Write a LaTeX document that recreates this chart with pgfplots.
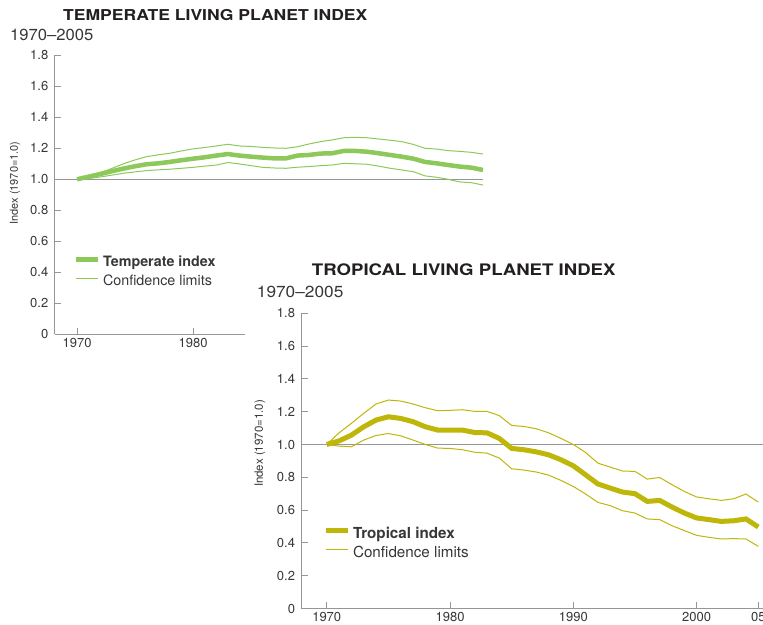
\documentclass[border=0pt]{standalone}
\usepackage{fontspec}
\usepackage{graphicx}
\usepackage{pgfplots}
\pgfplotsset{compat=1.18}
\setmainfont{TeX Gyre Heros}

\definecolor{tempgreen}{RGB}{140,200,90}
\definecolor{tropyellow}{RGB}{190,183,10}
\definecolor{axisgray}{RGB}{150,150,150}
\definecolor{labelgray}{RGB}{55,55,55}
\definecolor{titleblack}{RGB}{35,31,32}

% temperate index and its confidence limits
\pgfplotstableread{
year main upper lower
1970 1.000 1.000 1.000
1971 1.017 1.020 1.005
1972 1.034 1.042 1.015
1973 1.052 1.070 1.027
1974 1.069 1.100 1.039
1975 1.084 1.125 1.048
1976 1.097 1.146 1.056
1977 1.103 1.158 1.061
1978 1.112 1.168 1.065
1979 1.123 1.183 1.071
1980 1.133 1.196 1.077
1981 1.142 1.205 1.085
1982 1.153 1.215 1.092
1983 1.163 1.226 1.108
1984 1.153 1.215 1.099
1985 1.146 1.212 1.088
1986 1.140 1.206 1.077
1987 1.135 1.202 1.073
1988 1.135 1.200 1.071
1989 1.153 1.210 1.078
1990 1.157 1.228 1.082
1991 1.166 1.243 1.088
1992 1.168 1.254 1.092
1993 1.183 1.268 1.103
1994 1.183 1.271 1.100
1995 1.178 1.268 1.097
1996 1.168 1.260 1.085
1997 1.157 1.252 1.071
1998 1.146 1.243 1.060
1999 1.133 1.225 1.049
2000 1.112 1.200 1.022
2001 1.103 1.195 1.013
2002 1.092 1.185 1.000
2003 1.082 1.180 0.983
2004 1.075 1.174 0.978
2005 1.060 1.163 0.963
}\temperate

% tropical index and its confidence limits
\pgfplotstableread{
year main upper lower
1970 1.000 1.000 1.000
1971 1.022 1.071 0.990
1972 1.057 1.129 0.986
1973 1.108 1.190 1.027
1974 1.149 1.247 1.055
1975 1.169 1.271 1.067
1976 1.159 1.265 1.053
1977 1.139 1.247 1.027
1978 1.108 1.224 1.000
1979 1.088 1.206 0.978
1980 1.088 1.208 0.976
1981 1.088 1.212 0.968
1982 1.073 1.202 0.953
1983 1.071 1.202 0.947
1984 1.037 1.176 0.917
1985 0.976 1.116 0.852
1986 0.968 1.110 0.844
1987 0.955 1.096 0.832
1988 0.937 1.071 0.813
1989 0.907 1.037 0.781
1990 0.870 1.000 0.744
1991 0.815 0.951 0.698
1992 0.759 0.886 0.647
1993 0.734 0.862 0.627
1994 0.710 0.838 0.596
1995 0.700 0.836 0.582
1996 0.653 0.789 0.546
1997 0.659 0.799 0.542
1998 0.619 0.755 0.505
1999 0.582 0.714 0.475
2000 0.552 0.680 0.446
2001 0.542 0.669 0.434
2002 0.531 0.659 0.424
2003 0.535 0.669 0.426
2004 0.546 0.698 0.424
2005 0.497 0.649 0.379
}\tropical

\pgfplotsset{
  lpi/.style={
    scale only axis,
    axis lines=left,
    axis line style={-, draw=axisgray, line width=1pt},
    tick align=inside,
    major tick length=6pt,
    tick style={draw=axisgray, line width=1pt},
    ymin=0, ymax=1.8,
    ytick={0,0.2,0.4,0.6,0.8,1.0,1.2,1.4,1.6,1.8},
    yticklabels={0,0.2,0.4,0.6,0.8,1.0,1.2,1.4,1.6,1.8},
    /pgf/number format/assume math mode=true,
    yticklabel style={inner sep=0pt, xshift=-6.5pt,
      font=\fontsize{13}{15}\selectfont, text=labelgray},
    xticklabel style={inner sep=0pt, yshift=-4pt,
      font=\fontsize{13}{15}\selectfont, text=labelgray},
    clip=false,
    legend cell align=left,
    legend image code/.code={\draw[##1] (0pt,3.8pt) -- (22pt,3.8pt);},
    legend style={draw=none, fill=none, inner sep=0pt, outer sep=0pt,
      row sep=6pt, column sep=3pt, anchor=west, text=labelgray,
      nodes={inner sep=0pt, text height=10pt, text depth=3pt}},
  },
}

\begin{document}
\begin{tikzpicture}
\useasboundingbox (0,0) rectangle (763pt,624pt);
\clip (0,0) rectangle (763pt,624pt);

% ---- temperate panel ----
\begin{axis}[lpi,
  at={(55pt,289.7pt)}, anchor=south west,
  width=428pt, height=279pt,
  xmin=1968.1, xmax=2005,
  xtick={1970,1980,1990,2000},
  xticklabels={1970,1980,1990,2000},
  legend style={at={(axis cs:1969.7,0.397)}, font=\fontsize{14.3}{16}\selectfont},
]
\addplot[axisgray, line width=1.2pt, forget plot] coordinates {(1968.1,1) (2005,1)};
\addplot[tempgreen, line width=4.5pt] table[x=year, y=main] {\temperate};
\addlegendentry{\textbf{Temperate index}}
\addplot[tempgreen, line width=1pt] table[x=year, y=upper] {\temperate};
\addlegendentry{Confidence limits}
\addplot[tempgreen, line width=1pt, forget plot] table[x=year, y=lower] {\temperate};
\end{axis}

\node[anchor=base west, inner sep=0pt, text=titleblack] at (63pt,603.6pt)
  {\scalebox{1.17}[1]{\fontsize{15}{17}\selectfont\bfseries TEMPERATE LIVING PLANET INDEX}};
\node[anchor=base west, inner sep=0pt, text=labelgray] at (10pt,583.6pt)
  {\scalebox{1.04}[1]{\fontsize{16}{18}\selectfont 1970–2005}};
\node[rotate=90, inner sep=0pt, text=labelgray] at (15pt,441pt)
  {\fontsize{11}{13}\selectfont Index (1970=1.0)};

% white panel behind the tropical chart
\fill[white] (245pt,0pt) rectangle (763pt,374pt);

% ---- tropical panel ----
\begin{axis}[lpi,
  at={(301.7pt,15.5pt)}, anchor=south west,
  width=461.5pt, height=295.2pt,
  xmin=1967.97, xmax=2005.4,
  xtick={1970,1980,1990,2000,2005},
  xticklabels={1970,1980,1990,2000,05},
  legend style={at={(axis cs:1969.7,0.392)}, font=\fontsize{15.2}{17}\selectfont},
]
\addplot[axisgray, line width=1.2pt, forget plot] coordinates {(1967.97,1) (2005.4,1)};
\addplot[tropyellow, line width=5pt] table[x=year, y=main] {\tropical};
\addlegendentry{\textbf{Tropical index}}
\addplot[tropyellow, line width=1pt] table[x=year, y=upper] {\tropical};
\addlegendentry{Confidence limits}
\addplot[tropyellow, line width=1pt, forget plot] table[x=year, y=lower] {\tropical};
\end{axis}

\node[anchor=base west, inner sep=0pt, text=titleblack] at (311.7pt,348.6pt)
  {\scalebox{1.17}[1]{\fontsize{15.9}{18}\selectfont\bfseries TROPICAL LIVING PLANET INDEX}};
\node[anchor=base west, inner sep=0pt, text=labelgray] at (256.7pt,326.6pt)
  {\scalebox{1.08}[1]{\fontsize{16}{18}\selectfont 1970–2005}};
\node[rotate=90, inner sep=0pt, text=labelgray] at (260pt,180.5pt)
  {\fontsize{11.5}{13}\selectfont Index (1970=1.0)};
\end{tikzpicture}
\end{document}
